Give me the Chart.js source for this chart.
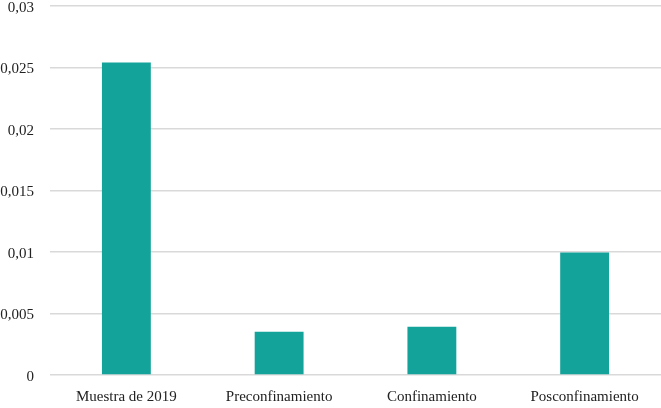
<!doctype html>
<html>

<head>
    <title>Grafico</title>
    <script src="https://cdn.jsdelivr.net/npm/chart.js"></script>
</head>

<body style="margin:0; background-color:#fff;">
    <div style="width:661px; height:408px;">
        <canvas id="grafico"></canvas>
    </div>

    <script>
        var categorias = ['Muestra de 2019', 'Preconfinamiento', 'Confinamiento', 'Posconfinamiento'];
        var valores = [0.0254, 0.00352, 0.00393, 0.00995];
        var marcasY = [0, 0.005, 0.01, 0.015, 0.02, 0.025, 0.03];
        var etiquetasY = ['0', '0,005', '0,01', '0,015', '0,02', '0,025', '0,03'];

        var familia = '"Liberation Serif", "DejaVu Serif", serif';

        var grafico = new Chart(document.getElementById('grafico').getContext('2d'), {
            type: 'bar',
            data: {
                labels: categorias,
                datasets: [{
                    data: valores,
                    backgroundColor: '#13a39a',
                    borderWidth: 0,
                    barPercentage: 0.64,
                    categoryPercentage: 0.5
                }]
            },
            options: {
                responsive: true,
                maintainAspectRatio: false,
                animation: false,
                layout: { padding: { top: 6, right: 0, bottom: 0, left: 0 } },
                plugins: {
                    legend: { display: false },
                    tooltip: { enabled: false }
                },
                scales: {
                    x: {
                        grid: { display: false },
                        border: { display: false },
                        ticks: { color: '#222', font: { family: familia, size: 15 }, padding: 5 },
                        afterFit: function (eje) {
                            eje.height = 33;
                            eje.paddingLeft = 0;
                            eje.paddingRight = 0;
                        }
                    },
                    y: {
                        min: 0,
                        max: 0.03,
                        afterBuildTicks: function (eje) {
                            eje.ticks = marcasY.map(v => ({ value: v }));
                        },
                        afterFit: function (eje) {
                            eje.width = 50;
                            eje.paddingTop = 0;
                            eje.paddingBottom = 0;
                        },
                        grid: { color: '#d9d9d9', lineWidth: 1.5, drawTicks: false },
                        border: { display: false },
                        ticks: {
                            color: '#222',
                            font: { family: familia, size: 15 },
                            padding: 16,
                            labelOffset: 2,
                            callback: function (valor, i) {
                                return etiquetasY[i];
                            }
                        }
                    }
                }
            }
        });
    </script>
</body>

</html>
